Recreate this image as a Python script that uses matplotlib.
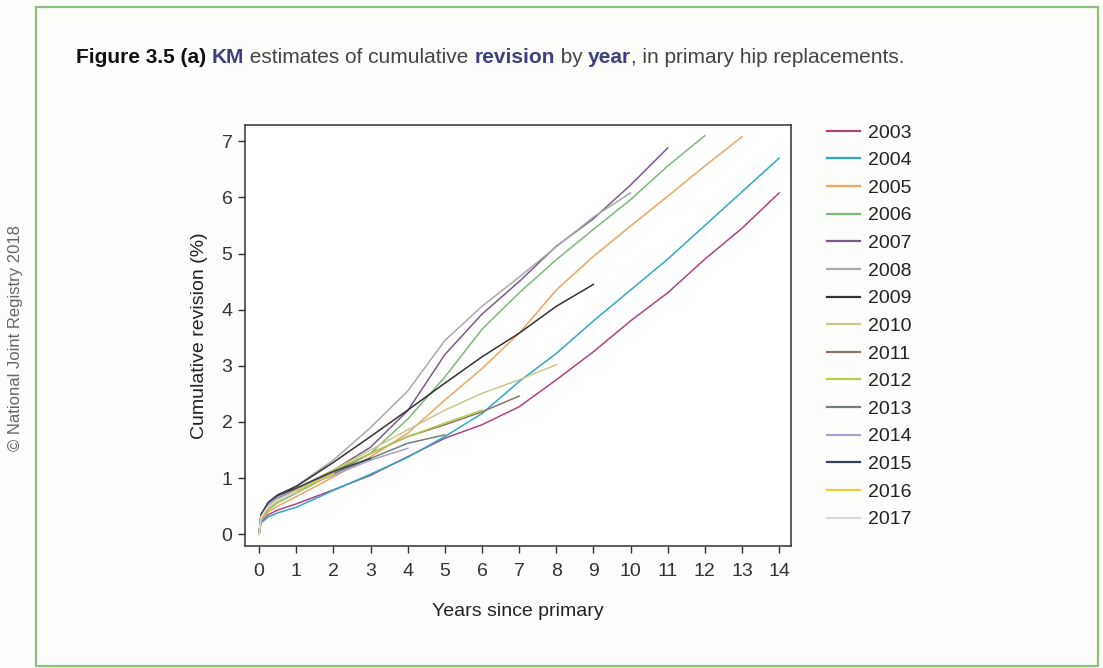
import matplotlib.pyplot as plt
from matplotlib.patches import Rectangle

plt.rcParams['font.family'] = ['Liberation Sans', 'DejaVu Sans']

# years since primary at which the curves were read
early_x = [0, 0.05, 0.25, 0.5, 1]

years = ['2003', '2004', '2005', '2006', '2007', '2008', '2009', '2010',
         '2011', '2012', '2013', '2014', '2015', '2016', '2017']

follow_up = [14, 14, 13, 12, 11, 10, 9, 8, 7, 6, 5, 4, 3, 2, 1]

rev_2003 = [0, 0.22, 0.35, 0.43, 0.54, 0.79, 1.05, 1.38, 1.71, 1.95, 2.27,
            2.75, 3.25, 3.80, 4.30, 4.90, 5.45, 6.08]
rev_2004 = [0, 0.20, 0.31, 0.38, 0.48, 0.78, 1.07, 1.37, 1.74, 2.15, 2.72,
            3.22, 3.80, 4.35, 4.90, 5.50, 6.10, 6.70]
rev_2005 = [0, 0.24, 0.40, 0.50, 0.67, 1.02, 1.38, 1.80, 2.39, 2.95, 3.58,
            4.35, 4.95, 5.49, 6.02, 6.56, 7.08]
rev_2006 = [0, 0.26, 0.44, 0.56, 0.73, 1.08, 1.44, 2.05, 2.80, 3.65, 4.30,
            4.89, 5.43, 5.96, 6.56, 7.10]
rev_2007 = [0, 0.32, 0.54, 0.66, 0.81, 1.14, 1.55, 2.20, 3.20, 3.92, 4.50,
            5.13, 5.62, 6.22, 6.88]
rev_2008 = [0, 0.33, 0.56, 0.70, 0.86, 1.32, 1.90, 2.55, 3.45, 4.06, 4.58,
            5.12, 5.65, 6.08]
rev_2009 = [0, 0.34, 0.57, 0.70, 0.85, 1.28, 1.74, 2.21, 2.69, 3.16, 3.58,
            4.06, 4.45]
rev_2010 = [0, 0.30, 0.50, 0.61, 0.75, 1.14, 1.50, 1.86, 2.21, 2.51, 2.75,
            3.02]
rev_2011 = [0, 0.31, 0.51, 0.63, 0.78, 1.11, 1.44, 1.74, 1.95, 2.18, 2.46]
rev_2012 = [0, 0.28, 0.48, 0.60, 0.78, 1.14, 1.44, 1.74, 1.98, 2.21]
rev_2013 = [0, 0.31, 0.52, 0.64, 0.78, 1.08, 1.35, 1.62, 1.77]
rev_2014 = [0, 0.33, 0.54, 0.66, 0.80, 1.05, 1.32, 1.53]
rev_2015 = [0, 0.35, 0.57, 0.69, 0.82, 1.12, 1.35]
rev_2016 = [0, 0.29, 0.48, 0.60, 0.78, 1.08]
rev_2017 = [0, 0.31, 0.50, 0.62, 0.75]

revisions = [rev_2003, rev_2004, rev_2005, rev_2006, rev_2007, rev_2008,
             rev_2009, rev_2010, rev_2011, rev_2012, rev_2013, rev_2014,
             rev_2015, rev_2016, rev_2017]

colors = ['#b0437f', '#2ea8c9', '#f2a35e', '#7db97a', '#7b5a8c', '#aaaaaa',
          '#333333', '#c9c88f', '#8a766b', '#b6cc4e', '#6f8279', '#a9a2c9',
          '#3b3f55', '#e6cf3c', '#dadada']

x_ticks = list(range(15))
y_ticks = list(range(8))

navy = '#3d3f7e'
text_grey = '#444444'

fig = plt.figure(figsize=(11.03, 6.68), dpi=100)
fig.patch.set_facecolor('#fdfdfb')

# green frame around the figure panel
fig.patches.append(Rectangle((36 / 1103, 2 / 668), 1062 / 1103, 659 / 668,
                             transform=fig.transFigure, fill=False,
                             edgecolor='#8cc07e', linewidth=1.6))

ax = fig.add_axes([245 / 1103, 1 - 546 / 668, 546 / 1103, 421 / 668])
ax.set_facecolor('white')

for yr, n, rev, c in zip(years, follow_up, revisions, colors):
    xs = early_x + list(range(2, n + 1))
    ax.plot(xs, rev, color=c, lw=1.1, label=yr)

ax.set_xlim(-0.38, 14.32)
ax.set_ylim(-0.21, 7.29)
ax.set_xticks(x_ticks)
ax.set_yticks(y_ticks)
ax.tick_params(direction='out', length=5, width=1, colors='#333333',
               labelsize=14, pad=7)
ax.tick_params(axis='y', pad=4)
for s in ax.spines.values():
    s.set_color('#333333')
    s.set_linewidth(1.1)

ax.set_xlabel('Years since primary', fontsize=14, color='#222222',
              labelpad=17)
ax.set_ylabel('Cumulative revision (%)', fontsize=14, color='#222222',
              labelpad=10)

leg = ax.legend(loc='upper left', bbox_to_anchor=(827 / 1103, 1 - 124 / 668),
                bbox_transform=fig.transFigure, frameon=False,
                fontsize=14, handlelength=1.7, handletextpad=0.42,
                labelspacing=0.515, borderaxespad=0, borderpad=0)
for t in leg.get_texts():
    t.set_color('#222222')
for h in leg.get_lines():
    h.set_linewidth(1.6)

# title in coloured pieces
pieces = [('Figure 3.5 (a) ', 'bold', '#111111'),
          ('KM', 'bold', navy),
          (' estimates of cumulative ', 'normal', text_grey),
          ('revision', 'bold', navy),
          (' by ', 'normal', text_grey),
          ('year', 'bold', navy),
          (', in primary hip replacements.', 'normal', text_grey)]
prev = fig.text(76 / 1103, 1 - 67 / 668, pieces[0][0], fontsize=15,
                fontweight=pieces[0][1], color=pieces[0][2], va='bottom')
for txt, w, c in pieces[1:]:
    prev = ax.annotate(txt, xy=(1, 0), xycoords=prev, fontsize=15,
                       fontweight=w, color=c, va='bottom', ha='left',
                       annotation_clip=False)

fig.text(16 / 1103, 1 - 338 / 668, '\u00a9 National Joint Registry 2018',
         rotation=90, fontsize=12, color='#666666', ha='center',
         va='center')

fig.savefig('out.png', dpi=100, facecolor=fig.get_facecolor())
